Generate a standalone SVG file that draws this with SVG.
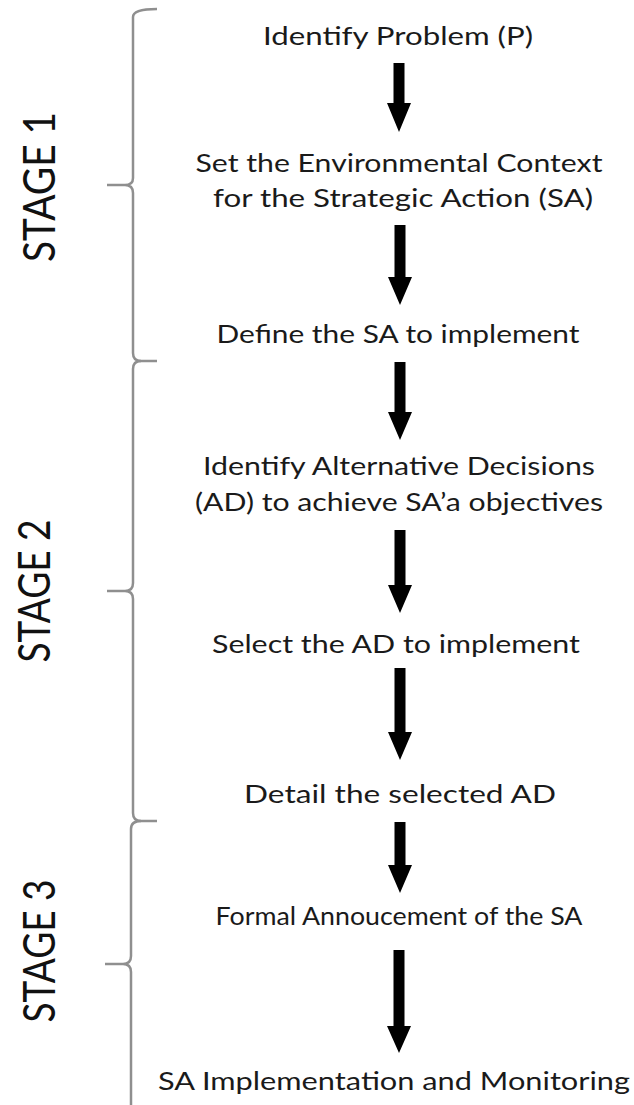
<svg xmlns="http://www.w3.org/2000/svg" width="634" height="1105" viewBox="0 0 634 1105">
<style>
.t{font-family:Lato,"Open Sans","Liberation Sans",sans-serif;font-size:25px;fill:#1a1a1a;text-anchor:middle}
.s{font-family:Lato,"Open Sans","Liberation Sans",sans-serif;font-size:44px;fill:#111;text-anchor:middle}
.b{fill:none;stroke:#8f8f8f;stroke-width:2.5;stroke-linejoin:round}
.a{fill:#000}
</style>
<rect width="634" height="1105" fill="#fff"/>
<g id="braces">
<path class="b" d="M157,9 Q133,9 133,17 L133,178 Q133,185 125,185 L107,185 M125,185 Q133,185 133,193 L133,353 Q133,361 141,361 L157,361"/>
<path class="b" d="M141,361 Q133,361 133,369 L133,583 Q133,591 125,591 L107,591 M125,591 Q133,591 133,599 L133,813 Q133,821 141,821 L157,821"/>
<path class="b" d="M141,821 Q131,821 131,829 L131,956 Q131,964 123,964 L105,964 M123,964 Q131,964 131,972 L131,1105"/>
</g>
<g id="stage1"><text class="s" transform="translate(55,187) rotate(-90)" textLength="150" lengthAdjust="spacingAndGlyphs">STAGE 1</text></g>
<g id="stage2"><text class="s" transform="translate(50,591) rotate(-90)" textLength="143" lengthAdjust="spacingAndGlyphs">STAGE 2</text></g>
<g id="stage3"><text class="s" transform="translate(55,951) rotate(-90)" textLength="143" lengthAdjust="spacingAndGlyphs">STAGE 3</text></g>
<g id="n1"><text class="t" x="398" y="45" textLength="270" lengthAdjust="spacingAndGlyphs">Identify Problem (P)</text></g>
<g id="n2"><text class="t" x="399" y="172" textLength="407" lengthAdjust="spacingAndGlyphs">Set the Environmental Context</text><text class="t" x="403" y="207" textLength="380" lengthAdjust="spacingAndGlyphs">for the Strategic Action (SA)</text></g>
<g id="n3"><text class="t" x="398" y="343" textLength="363" lengthAdjust="spacingAndGlyphs">Define the SA to implement</text></g>
<g id="n4"><text class="t" x="399" y="475" textLength="392" lengthAdjust="spacingAndGlyphs">Identify Alternative Decisions</text><text class="t" x="399" y="511" textLength="408" lengthAdjust="spacingAndGlyphs">(AD) to achieve SA’a objectives</text></g>
<g id="n5"><text class="t" x="396" y="653" textLength="368" lengthAdjust="spacingAndGlyphs">Select the AD to implement</text></g>
<g id="n6"><text class="t" x="400" y="803" textLength="312" lengthAdjust="spacingAndGlyphs">Detail the selected AD</text></g>
<g id="n7"><text class="t" x="399" y="925" textLength="367" lengthAdjust="spacingAndGlyphs">Formal Annoucement of the SA</text></g>
<g id="n8"><text class="t" x="394" y="1090" textLength="472" lengthAdjust="spacingAndGlyphs">SA Implementation and Monitoring</text></g>
<g id="connectors">
<polygon class="a" points="393.5,63 404.5,63 404.5,103 411,103 399,132 387,103 393.5,103"/>
<polygon class="a" points="394.5,225 405.5,225 405.5,277 412,277 400,305 388,277 394.5,277"/>
<polygon class="a" points="394.5,362 405.5,362 405.5,412 412,412 400,440 388,412 394.5,412"/>
<polygon class="a" points="394.5,530 405.5,530 405.5,585 412,585 400,613 388,585 394.5,585"/>
<polygon class="a" points="394.5,668 405.5,668 405.5,732 412,732 400,760 388,732 394.5,732"/>
<polygon class="a" points="394.5,822 405.5,822 405.5,865 412,865 400,893 388,865 394.5,865"/>
<polygon class="a" points="393.5,950 404.5,950 404.5,1026 411,1026 399,1053 387,1026 393.5,1026"/>
</g>
</svg>
